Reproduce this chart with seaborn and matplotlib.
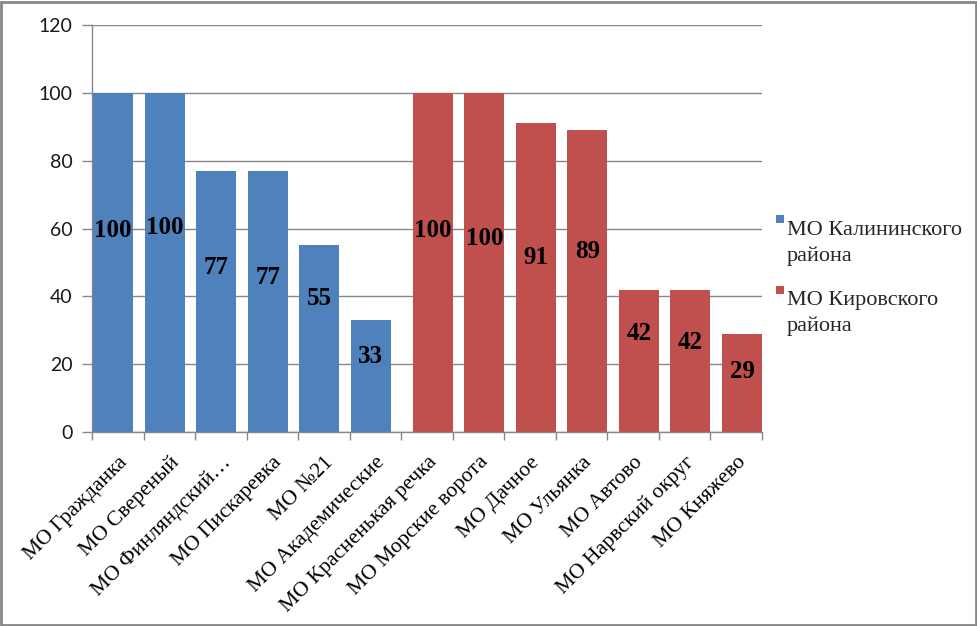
import matplotlib
matplotlib.use("Agg")
import matplotlib.pyplot as plt
import matplotlib.transforms as mtransforms
import seaborn as sns
import pandas as pd
from matplotlib.patches import Rectangle
from matplotlib.legend_handler import HandlerPatch

# ---- data ----
kalinin_names = ["МО Гражданка", "МО Свереный", "МО Финляндский…", "МО Пискаревка",
                 "МО №21", "МО Академические"]
kalinin_values = [100, 100, 77, 77, 55, 33]
kirov_names = ["МО Красненькая речка", "МО Морские ворота", "МО Дачное", "МО Ульянка",
               "МО Автово", "МО Нарвский округ", "МО Княжево"]
kirov_values = [100, 100, 91, 89, 42, 42, 29]
series_names = ["МО Калининского района", "МО Кировского района"]
series_labels = ["МО Калининского\nрайона", "МО Кировского\nрайона"]
# vertical position of the value labels (as drawn in the original)
label_heights = [59.4, 60.2, 48.4, 45.7, 39.5, 22.4,
                 59.4, 57.1, 51.5, 53.2, 28.9, 26.3, 17.8]

categories = kalinin_names + kirov_names
df = pd.DataFrame({
    "cat": categories,
    "value": kalinin_values + kirov_values,
    "series": [series_names[0]] * len(kalinin_names) + [series_names[1]] * len(kirov_names),
})

colors = ["#4F81BD", "#C0504D"]
grid_c = "#878787"

sns.set_theme(style="white")
plt.rcParams["font.family"] = ["Liberation Serif", "DejaVu Serif"]

fig = plt.figure(figsize=(9.77, 6.26), dpi=100)
ax = fig.add_axes([92 / 977, 1 - 432 / 626, (762 - 92) / 977, (432 - 25) / 626])

sns.barplot(data=df, x="cat", y="value", hue="series", order=categories,
            hue_order=series_names, palette=colors, dodge=True, width=1.0,
            saturation=1, ax=ax, legend=False, errorbar=None, linewidth=0)

bw = 0.777
for ci, cont in enumerate(ax.containers):
    for p in cont.patches:
        if ci == 0:
            left = p.get_x() + 0.02
        else:
            left = p.get_x() + p.get_width() - bw
        p.set_x(left)
        p.set_width(bw)
        p.set_edgecolor("none")

# value labels
bars = [p for cont in ax.containers for p in cont.patches]
vals = kalinin_values + kirov_values
for p, v, h in zip(bars, vals, label_heights):
    ax.text(p.get_x() + p.get_width() / 2, h, f"{v}", ha="center", va="center",
            fontsize=18, fontweight="bold", family=["Liberation Serif"], color="black")

ax.set_xlim(-0.5, len(categories) - 0.5)
ax.set_ylim(0, 120)
ax.set_yticks(range(0, 121, 20))
ax.yaxis.grid(True, color=grid_c, linewidth=1)
ax.set_axisbelow(True)
for s in ["top", "right"]:
    ax.spines[s].set_visible(False)
for s in ["left", "bottom"]:
    ax.spines[s].set_color(grid_c)
    ax.spines[s].set_linewidth(1)

ax.set_xticks([i - 0.5 for i in range(len(categories) + 1)], minor=True)
ax.set_xticks(range(len(categories)))
ax.set_xticklabels(categories, rotation=45, ha="right", rotation_mode="anchor",
                   fontsize=15.5, family=["Liberation Serif"], color="black")
shift = mtransforms.ScaledTranslation(-4 / 100, 0, fig.dpi_scale_trans)
for t in ax.get_xticklabels():
    t.set_transform(t.get_transform() + shift)
ax.tick_params(axis="x", which="major", length=0, pad=15)
ax.tick_params(axis="x", which="minor", length=6, color=grid_c, width=1, bottom=True)
ax.tick_params(axis="y", length=7.2, color=grid_c, width=1, left=True, pad=7)
for t in ax.get_yticklabels():
    t.set_family(["Lato", "DejaVu Sans"])
    t.set_fontsize(14)
    t.set_color("#1a1a1a")
ax.set_xlabel("")
ax.set_ylabel("")

# legend
def square(legend, orig_handle, xdescent, ydescent, width, height, fontsize):
    s = 8 * 72 / 100
    return Rectangle((0, height - s - 3.5), s, s)

handles = [Rectangle((0, 0), 1, 1, facecolor=c, edgecolor="none") for c in colors]
leg = fig.legend(handles, series_labels, loc="upper left",
                 bbox_to_anchor=(767 / 977, 1 - 212 / 626), frameon=False,
                 prop={"family": "Liberation Serif", "size": 16},
                 handlelength=0.36, handleheight=2.4, handletextpad=0.12,
                 labelspacing=1.15, borderaxespad=0,
                 handler_map={Rectangle: HandlerPatch(patch_func=square)})
for t in leg.get_texts():
    t.set_linespacing(1.45)

fig.patches.append(Rectangle((1 / 977, 1 / 626), 975 / 977, 623 / 626,
                             transform=fig.transFigure, fill=False,
                             edgecolor="#868686", linewidth=2))

fig.savefig("out.png", dpi=100)
